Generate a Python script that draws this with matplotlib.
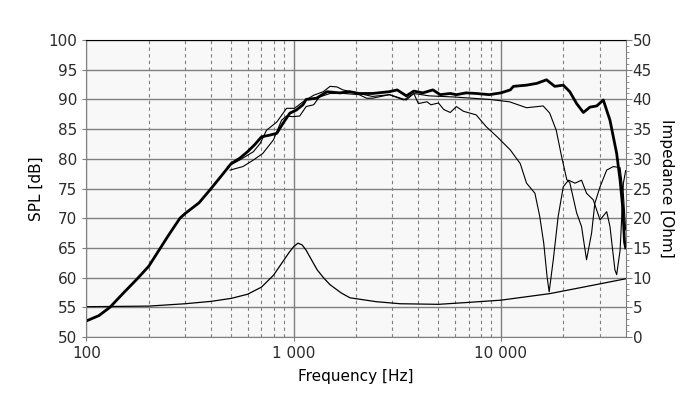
import numpy as np
import matplotlib
matplotlib.use("Agg")
import matplotlib.pyplot as plt
from matplotlib.ticker import FixedLocator, MultipleLocator, NullFormatter

# on-axis SPL (thick)
f_on = [100, 115, 130, 150, 175, 200, 250, 283, 300, 350, 400, 450, 500, 550, 600, 650,
        700, 770, 830, 890, 960, 1030, 1110, 1150, 1290, 1450, 1670, 1870, 2070, 2400,
        2900, 3160, 3500, 3800, 4200, 4700, 5100, 5700, 6100, 6800, 7600, 8800, 10000,
        11100, 11500, 13300, 14900, 16600, 18200, 20000, 21500, 23200, 25000, 26900,
        29000, 31200, 33600, 36200, 37600, 38700, 39500, 40000]
spl_on = [52.7, 53.6, 55.0, 57.3, 59.7, 61.9, 67.2, 70.0, 70.8, 72.6, 75.0, 77.2, 79.2,
          80.1, 81.2, 82.4, 83.7, 84.0, 84.3, 86.0, 87.7, 88.2, 89.1, 90.0, 90.2, 91.3,
          91.1, 91.3, 91.0, 91.0, 91.3, 91.6, 90.6, 91.4, 91.1, 91.6, 90.8, 91.0, 90.8,
          91.1, 91.0, 90.8, 91.1, 91.6, 92.2, 92.4, 92.7, 93.3, 92.2, 92.4, 91.3, 89.3,
          87.8, 88.7, 88.9, 89.9, 86.5, 80.9, 76.4, 71.9, 66.0, 65.0]

# off-axis SPL, curve 1 (rolls off near 18 kHz)
f_b = [480, 550, 640, 690, 740, 830, 925, 1010, 1110, 1250, 1390, 1500, 1620, 1730, 2070,
       2400, 2900, 3500, 3800, 4500, 6000, 8800, 11000, 13300, 16000, 17200, 18500, 19600,
       20800, 21500, 23200, 24500, 25900, 27400, 28400, 30100, 32400, 34900, 37600, 39000,
       40000]
spl_b = [78.7, 79.8, 81.2, 82.6, 84.8, 86.2, 88.5, 88.5, 89.6, 90.7, 91.3, 92.2, 92.1, 91.6,
         91.0, 90.5, 90.8, 89.9, 91.0, 90.6, 90.4, 90.0, 89.6, 88.6, 88.9, 87.7, 84.8, 80.5,
         76.5, 76.0, 70.9, 68.6, 63.0, 67.5, 72.5, 75.3, 78.1, 78.7, 78.5, 74.0, 68.0]

# off-axis SPL, curve 2 (rolls off from 5 kHz)
f_a = [494, 570, 640, 710, 800, 875, 925, 990, 1070, 1150, 1250, 1330, 1500, 1750, 2070,
       2250, 2400, 2900, 3400, 3800, 4000, 4400, 4600, 5000, 5300, 5700, 6100, 6600, 7600,
       8500, 9600, 11100, 12400, 13300, 14600, 15400, 16100, 16700, 17100, 17900, 18900,
       20000, 21200, 22800, 24500, 25900, 27900, 30100, 32400, 33600, 35500, 36200, 37600,
       39000, 40000]
spl_a = [78.1, 78.7, 79.8, 80.9, 83.2, 86.5, 87.2, 87.1, 87.2, 88.8, 89.1, 90.4, 91.0, 91.0,
         90.8, 90.2, 90.2, 90.8, 89.9, 91.0, 89.3, 89.6, 89.1, 89.4, 88.3, 87.8, 88.8, 88.0,
         87.4, 85.4, 83.7, 81.5, 79.2, 75.9, 74.2, 70.3, 65.8, 60.2, 57.6, 63.0, 70.3,
         75.3, 76.4, 75.9, 76.4, 74.2, 73.1, 69.7, 71.1, 68.6, 61.3, 60.5, 64.6, 75.9, 78.0]

# impedance (right axis)
f_z = [100, 200, 300, 400, 500, 600, 700, 800, 900, 950, 1000, 1050, 1100, 1150, 1220,
       1300, 1400, 1500, 1700, 1870, 2500, 3260, 5000, 6800, 10000, 17200, 25000, 40000]
imp = [5.1, 5.2, 5.6, 6.0, 6.5, 7.2, 8.4, 10.4, 13.0, 14.2, 15.2, 15.8, 15.5, 14.6, 13.0,
       11.3, 9.9, 8.8, 7.4, 6.6, 5.95, 5.6, 5.5, 5.8, 6.2, 7.3, 8.4, 9.8]

grid_col = "#7f7f7f"
txt_col = "#2b2b2b"
plt.rcParams["font.family"] = "DejaVu Sans"
plt.rcParams["font.size"] = 11

fig = plt.figure(figsize=(7.0, 3.99), dpi=100)
ax = fig.add_axes([0.1233, 0.1554, 0.7705, 0.7443])
ax.set_facecolor("#f8f8f8")
ax.set_xscale("log")
ax.set_xlim(100, 40000)
ax.set_ylim(50, 100)

ax.xaxis.set_major_locator(FixedLocator([100, 1000, 10000]))
ax.set_xticklabels(["100", "1 000", "10 000"])
minors = [m * d for d in (100, 1000, 10000) for m in range(2, 10) if m * d < 40000]
ax.xaxis.set_minor_locator(FixedLocator(minors))
ax.xaxis.set_minor_formatter(NullFormatter())
ax.yaxis.set_major_locator(MultipleLocator(5))

ax.grid(True, which="major", color=grid_col, lw=1.0, ls="-")
ax.grid(True, which="minor", axis="x", color=grid_col, lw=0.8, ls=(0, (3, 3)))
ax.set_axisbelow(True)

for s in ("left", "bottom", "right"):
    ax.spines[s].set_color(grid_col)
ax.spines["top"].set_color("black")
ax.tick_params(axis="both", which="major", length=3, color=grid_col, labelcolor=txt_col,
               labelsize=11)
ax.tick_params(axis="x", which="minor", length=0)

ax.plot(f_z, np.array(imp) + 50, color="black", lw=0.9)
ax.plot(f_a, spl_a, color="black", lw=0.8)
ax.plot(f_b, spl_b, color="black", lw=0.8)
ax.plot(f_on, spl_on, color="black", lw=2.0)

ax.set_xlabel("Frequency [Hz]", color="black", fontsize=11, labelpad=6)
ax.set_ylabel("SPL [dB]", color="black", fontsize=11, labelpad=3)

ax2 = ax.twinx()
ax2.set_ylim(0, 50)
ax2.yaxis.set_major_locator(MultipleLocator(5))
ax2.yaxis.set_minor_locator(MultipleLocator(1))
ax2.tick_params(axis="y", which="major", length=4, color=grid_col, labelcolor=txt_col,
                labelsize=11, pad=1)
ax2.tick_params(axis="y", which="minor", length=2, color=grid_col)
for s in ax2.spines.values():
    s.set_visible(False)
ax2.set_ylabel("Impedance [Ohm]", color="black", fontsize=11, rotation=270, labelpad=16)

fig.savefig("out.png", dpi=100)
